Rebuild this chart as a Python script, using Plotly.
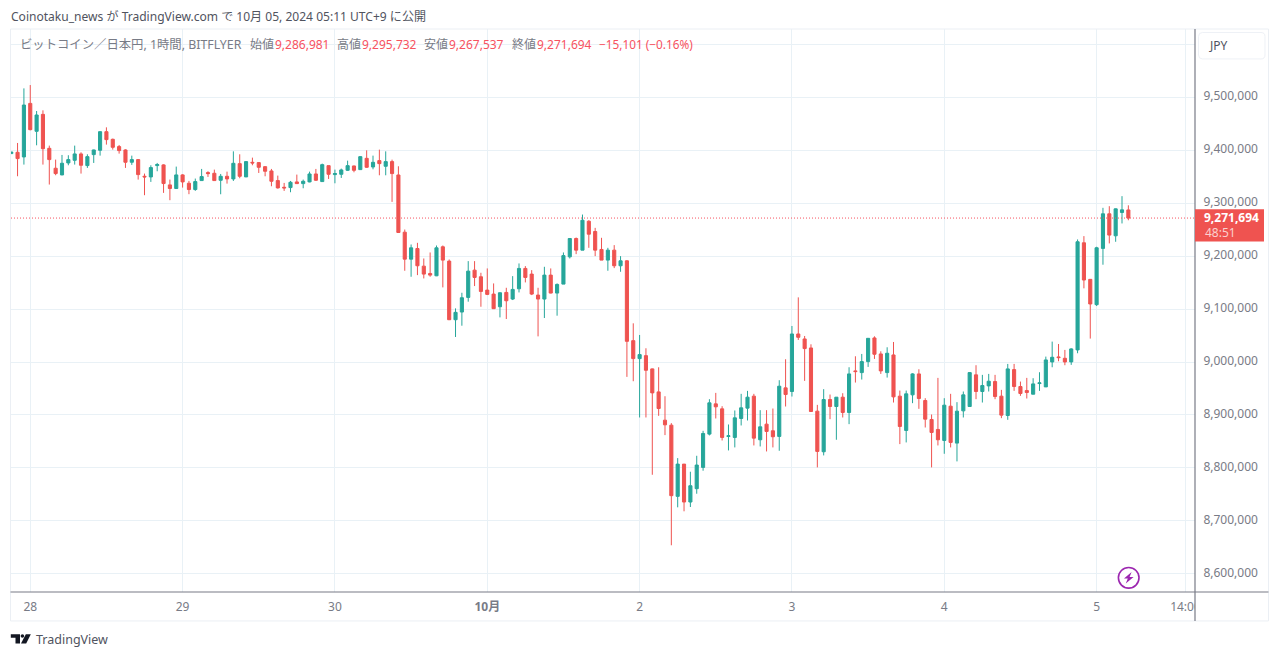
import pandas as pd
import plotly.graph_objects as go

# Prices in thousand yen, one value per hourly candle
open_k = [
9393.3,9395.8,9387.0,9488.1,9435.4,9467.4,9403.3,9365.7,9353.1,9375.7,
9380.7,9392.7,9370.7,9391.4,9399.6,9434.7,9420.3,9406.5,9400.2,9377.0,
9382.0,9350.6,9349.3,9370.7,9372.0,9334.3,9327.4,9353.1,9337.4,9325.5,
9342.4,9357.5,9356.2,9343.0,9350.5,9345.5,9374.4,9349.3,9376.9,9376.3,
9368.7,9360.6,9342.4,9329.8,9329.2,9339.9,9336.7,9339.9,9354.9,9340.5,
9370.6,9353.7,9354.3,9361.8,9370.0,9363.1,9384.4,9368.1,9380.1,9369.4,
9378.2,9353.0,9245.0,9194.1,9214.2,9180.9,9167.1,9162.7,9217.4,9190.4,
9079.8,9094.3,9121.9,9173.4,9160.9,9135.7,9128.2,9104.3,9131.3,9118.8,
9138.2,9176.6,9165.9,9126.3,9118.8,9164.0,9130.1,9147.0,9198.5,9233.1,
9211.1,9265.7,9246.3,9212.4,9192.3,9211.1,9181.6,9191.0,9040.3,9006.4,
9012.0,8987.0,8943.6,8890.2,8880.8,8746.4,8807.3,8735.7,8760.9,8801.1,
8863.9,8921.0,8911.6,8859.5,8857.6,8893.4,8912.9,8935.5,8853.2,8882.7,
8870.2,8859.5,8951.2,8944.3,9052.9,9043.5,9026.5,8907.2,8830.6,8929.2,
8916.0,8933.6,8904.7,8983.2,8980.0,9000.8,9045.4,9015.2,8980.0,9013.3,
8935.5,8870.8,8938.0,8977.5,8927.3,8891.5,8872.7,8851.9,8916.6,8846.9,
8907.8,8916.0,8975.7,8944.3,8954.9,8963.1,8935.5,8899.0,8985.7,8953.7,
8946.1,8939.2,8959.3,8953.0,9000.1,9009.6,9007.0,9000.2,9022.8,9225.0,
9156.0,9108.2,9214.4,9279.7,9238.2,9282.2,9286.981]

close_k = [
9396.4,9383.9,9485.0,9438.5,9466.2,9402.7,9382.0,9355.6,9375.1,9382.0,
9392.7,9371.3,9387.6,9400.2,9434.7,9419.7,9405.2,9399.0,9377.0,9382.0,
9353.7,9349.3,9366.9,9372.6,9336.8,9327.4,9353.1,9339.9,9325.5,9340.5,
9350.0,9355.6,9342.4,9350.5,9345.5,9375.0,9350.5,9378.2,9375.7,9367.5,
9360.0,9341.1,9328.6,9328.6,9339.2,9336.7,9341.1,9354.9,9343.0,9372.5,
9354.3,9355.6,9362.5,9370.6,9361.8,9387.6,9367.5,9376.9,9374.4,9378.2,
9355.6,9244.4,9194.1,9215.5,9181.6,9165.9,9164.0,9215.5,9192.3,9079.8,
9093.7,9121.3,9171.5,9159.6,9133.2,9127.6,9100.6,9130.7,9115.6,9137.0,
9176.6,9159.6,9128.2,9118.8,9164.0,9130.1,9146.4,9200.8,9233.1,9211.1,
9267.6,9241.2,9211.1,9192.3,9211.1,9181.6,9191.0,9039.0,9006.4,9014.0,
8984.4,8941.7,8912.2,8881.4,8747.7,8807.3,8735.7,8766.5,8805.5,8865.1,
8922.9,8915.4,8857.6,8860.7,8894.6,8913.5,8933.6,8856.3,8877.7,8868.9,
8858.9,8954.3,8938.6,9052.9,9046.6,9025.3,8906.6,8831.2,8929.2,8916.0,
8933.6,8904.7,8977.5,8981.9,9000.8,9044.7,9014.6,8983.2,9016.5,8934.2,
8878.3,8939.9,8977.5,8931.1,8892.1,8867.0,8853.2,8918.5,8848.2,8907.2,
8938.0,8980.0,8944.3,8955.6,8963.7,8934.8,8899.7,8987.0,8953.7,8940.5,
8942.4,8958.7,8960.6,9003.9,9008.9,9008.3,9000.1,9024.7,9226.9,9154.7,
9109.5,9215.6,9279.7,9239.5,9289.1,9287.2,9271.694]

high_k = [
9396.4,9413.4,9516.4,9522.7,9473.7,9475.0,9408.4,9382.0,9390.8,9390.2,
9408.4,9395.8,9392.0,9400.8,9435.4,9442.9,9421.6,9409.6,9401.5,9389.5,
9382.6,9355.6,9371.3,9375.7,9373.2,9344.3,9368.8,9354.4,9341.8,9346.2,
9364.4,9360.0,9363.1,9354.9,9359.3,9397.6,9392.0,9378.8,9385.7,9376.9,
9369.4,9364.4,9351.8,9338.0,9341.7,9353.7,9344.3,9359.3,9364.4,9374.4,
9370.6,9363.1,9365.0,9380.0,9370.6,9388.2,9399.5,9389.5,9400.8,9397.6,
9381.9,9369.4,9250.0,9221.8,9224.9,9195.4,9206.7,9219.9,9219.9,9193.5,
9101.2,9130.7,9190.4,9190.4,9168.4,9176.6,9148.3,9131.3,9140.1,9162.1,
9186.0,9181.0,9173.4,9140.1,9179.7,9176.6,9148.3,9206.7,9233.7,9235.0,
9278.3,9267.6,9253.2,9234.4,9215.5,9220.6,9199.8,9192.3,9073.0,9051.0,
9025.9,8987.6,8990.1,8935.4,8884.6,8818.6,8807.3,8792.9,8823.0,8870.1,
8929.8,8941.7,8916.6,8882.1,8908.5,8939.9,8945.5,8939.9,8909.1,8909.1,
8912.2,8965.6,9005.2,9068.0,9122.0,9049.1,9033.4,8919.1,8948.7,8938.6,
8933.6,8941.1,8990.1,9010.8,9015.2,9044.7,9048.5,9020.2,9027.8,9037.8,
8946.1,8946.1,8978.8,8986.3,8931.7,8900.9,8970.0,8931.7,8939.9,8924.2,
8944.3,8980.7,8993.9,8975.7,8977.5,8975.7,8947.4,8996.4,8996.4,8963.1,
8970.0,8969.4,8980.7,9010.2,9038.5,9034.0,9022.8,9026.0,9231.3,9237.6,
9156.0,9217.5,9291.0,9294.1,9289.7,9313.0,9295.732]

low_k = [
9393.3,9350.6,9372.6,9437.3,9409.0,9372.6,9334.9,9352.5,9352.5,9371.3,
9372.6,9355.6,9366.3,9375.7,9389.5,9410.3,9400.8,9393.3,9366.3,9372.0,
9344.3,9314.8,9339.9,9360.0,9319.2,9305.4,9327.4,9329.2,9316.7,9323.0,
9342.4,9349.3,9342.4,9316.6,9336.7,9341.7,9346.8,9349.3,9371.3,9356.8,
9350.5,9331.7,9327.3,9322.9,9320.4,9336.7,9327.9,9339.2,9341.7,9339.9,
9345.5,9337.3,9347.4,9360.6,9358.1,9362.5,9366.2,9363.7,9352.4,9352.4,
9302.2,9243.8,9172.2,9160.9,9164.0,9157.7,9160.9,9162.1,9140.8,9079.2,
9047.2,9068.5,9113.8,9143.3,9104.3,9126.3,9100.0,9084.2,9081.1,9116.9,
9131.3,9150.2,9126.3,9048.4,9083.0,9129.5,9087.4,9147.0,9195.4,9203.6,
9211.1,9215.5,9199.8,9192.3,9172.2,9177.2,9170.3,8971.9,8963.7,8895.3,
8895.3,8787.2,8898.4,8862.0,8654.1,8725.7,8718.2,8726.3,8751.4,8794.8,
8861.4,8893.4,8851.9,8833.1,8838.8,8880.2,8889.6,8842.5,8840.6,8831.2,
8838.8,8832.5,8916.0,8934.8,9041.6,8964.4,8906.0,8801.1,8823.7,8892.1,
8853.2,8895.3,8882.7,8961.2,8966.9,8990.7,9005.8,8977.5,8970.6,8923.5,
8845.0,8848.2,8922.3,8911.6,8876.4,8801.1,8842.5,8826.8,8838.8,8812.4,
8895.3,8915.4,8929.8,8923.5,8944.3,8929.8,8894.0,8890.9,8945.5,8936.1,
8931.1,8939.2,8945.5,8953.0,8990.1,9001.4,8993.9,8994.6,9016.5,9139.0,
9044.2,9105.7,9183.6,9223.8,9226.9,9261.5,9267.537]

times = pd.date_range("2024-09-27 21:00", periods=len(open_k), freq="h")
x_ticks = ["2024-09-28", "2024-09-29", "2024-09-30", "2024-10-01", "2024-10-02",
           "2024-10-03", "2024-10-04", "2024-10-05", "2024-10-05 14:00"]
x_labels = ["28", "29", "30", "<b>10月</b>", "2", "3", "4", "5", "14:00"]
y_ticks = [8600000, 8700000, 8800000, 8900000, 9000000, 9100000, 9200000, 9300000,
           9400000, 9500000, 9600000]
y_labels = ["8,600,000", "8,700,000", "8,800,000", "8,900,000", "9,000,000", "9,100,000",
            "9,200,000", "9,300,000", "9,400,000", "9,500,000", ""]
last_price = 9271694

UP, DOWN = "#26A69A", "#EF5350"
GRID = "#E9F1F6"
AXIS = "#787B86"
FONT = "'Noto Sans', 'Noto Sans CJK JP', sans-serif"

L, R, T, B = 11, 1195, 28.5, 592.5
def fx(px): return (px - L) / (R - L)
def fy(py): return 1 - (py - T) / (B - T)
def path(pts):
    return "M " + " L ".join(f"{fx(a):.5f} {fy(b):.5f}" for a, b in pts) + " Z"
def rounded(x0, y0, x1, y1, r):
    p = lambda a, b: f"{fx(a):.5f} {fy(b):.5f}"
    return (f"M {p(x0 + r, y0)} L {p(x1 - r, y0)} Q {p(x1, y0)} {p(x1, y0 + r)} "
            f"L {p(x1, y1 - r)} Q {p(x1, y1)} {p(x1 - r, y1)} L {p(x0 + r, y1)} "
            f"Q {p(x0, y1)} {p(x0, y1 - r)} L {p(x0, y0 + r)} Q {p(x0, y0)} {p(x0 + r, y0)} Z")

fig = go.Figure(go.Candlestick(
    x=times,
    open=[v * 1000 for v in open_k], high=[v * 1000 for v in high_k],
    low=[v * 1000 for v in low_k], close=[v * 1000 for v in close_k],
    increasing=dict(line=dict(color=UP, width=1), fillcolor=UP),
    decreasing=dict(line=dict(color=DOWN, width=1), fillcolor=DOWN),
    whiskerwidth=0, showlegend=False, hoverinfo="skip",
))

def rect(x0, y0, x1, y1, **kw):
    return dict(type="rect", xref="paper", yref="paper", x0=fx(x0), x1=fx(x1), y0=fy(y0), y1=fy(y1), **kw)
def seg(x0, y0, x1, y1, color, width=1):
    return dict(type="line", xref="paper", yref="paper", x0=fx(x0), x1=fx(x1), y0=fy(y0), y1=fy(y1),
                line=dict(color=color, width=width))

shapes = [
    # last price dotted line
    dict(type="line", xref="paper", yref="y", x0=0, x1=1, y0=last_price, y1=last_price,
         line=dict(color="#F7525F", width=1, dash="1px,2px")),
    # cover the part of the last time label that runs under the price scale
    rect(1195, 594, 1268, 620, fillcolor="white", line=dict(width=0)),
    # outer frame and axis rules
    rect(10.5, 28.5, 1268.5, 621.5, line=dict(color="#EBEFF4", width=1)),
    seg(10.5, 592.5, 1268.5, 592.5, AXIS, 1.2),
    seg(1195, 28.5, 1195, 621.5, AXIS, 1.2),
    # JPY button
    dict(type="path", xref="paper", yref="paper", path=rounded(1198.5, 32, 1265, 58.5, 4),
         line=dict(color="#EEF1F6", width=1), fillcolor="white"),
    # last price badge
    rect(1195, 209, 1264, 241.5, fillcolor=DOWN, line=dict(width=0)),
    # lightning badge
    dict(type="circle", xref="paper", yref="paper", x0=fx(1118.4), x1=fx(1139), y0=fy(588.6), y1=fy(568),
         line=dict(color="#9C27B0", width=1.6), fillcolor="white"),
    dict(type="path", xref="paper", yref="paper",
         path=path([(1131.6, 572.5), (1124, 579), (1127.8, 579), (1125.8, 584), (1133.6, 577.4), (1129.6, 577.4)]),
         fillcolor="#9C27B0", line=dict(width=0)),
    # TradingView logo
    dict(type="path", xref="paper", yref="paper",
         path=path([(10.8, 634.8), (20, 634.8), (20, 644.2), (15.5, 644.2), (15.5, 638.3), (10.8, 638.3)]),
         fillcolor="#131722", line=dict(width=0)),
    dict(type="circle", xref="paper", yref="paper", x0=fx(20.6), x1=fx(24.2), y0=fy(638.4), y1=fy(634.8),
         fillcolor="#131722", line=dict(width=0)),
    dict(type="path", xref="paper", yref="paper",
         path=path([(25.8, 634.8), (30.8, 634.8), (26.2, 644.2), (21, 644.2)]),
         fillcolor="#131722", line=dict(width=0)),
]

def label(px, py, text, color="#787B86", size=12, anchor="left", **kw):
    return dict(xref="paper", yref="paper", x=fx(px), y=fy(py), text=text, showarrow=False,
                xanchor=anchor, yanchor="middle", font=dict(size=size, color=color, family=FONT),
                xshift=0, yshift=0, borderpad=0, **kw)

VAL = "#F7525F"
annotations = [
    label(10, 16, "Coinotaku_news が TradingView.com で 10月 05, 2024 05:11 UTC+9 に公開", "#50535E", size=12.05),
    label(19, 44, "ビットコイン／日本円, 1時間, BITFLYER", "#787B86", size=12.35),
    label(249, 44, "始値", "#787B86"), label(274, 44, "9,286,981", VAL),
    label(336, 44, "高値", "#787B86"), label(361, 44, "9,295,732", VAL),
    label(423, 44, "安値", "#787B86"), label(448, 44, "9,267,537", VAL),
    label(511, 44, "終値", "#787B86"), label(536, 44, "9,271,694", VAL),
    label(598, 44, "−15,101 (−0.16%)", VAL, size=11.8),
    label(1207.5, 45, "JPY", "#50535E"),
    label(1203.5, 217, "<b>9,271,694</b>", "white"),
    label(1204, 232, "48:51", "#FBD0CF"),
    label(34.5, 640, "TradingView", "#50535E", size=12.5),
]

fig.update_layout(
    width=1280, height=658, autosize=False,
    margin=dict(l=L, r=1280 - R, t=T, b=658 - B, pad=0),
    paper_bgcolor="white", plot_bgcolor="white",
    font=dict(family=FONT, size=12, color=AXIS),
    shapes=shapes, annotations=annotations, showlegend=False, hovermode=False,
    xaxis=dict(
        type="date", rangeslider=dict(visible=False),
        range=["2024-09-27 20:58", "2024-10-05 15:30"],
        tickmode="array", tickvals=x_ticks, ticktext=x_labels, tickangle=0,
        showgrid=True, gridcolor=GRID, gridwidth=1, zeroline=False, showline=False,
        ticks="outside", ticklen=4, tickcolor="rgba(0,0,0,0)",
        tickfont=dict(size=12, color=AXIS, family=FONT),
    ),
    yaxis=dict(
        side="right", range=[8565900, 9628500],
        tickmode="array", tickvals=y_ticks, ticktext=y_labels,
        showgrid=True, gridcolor=GRID, gridwidth=1, zeroline=False, showline=False,
        ticks="outside", ticklen=5, tickcolor="rgba(0,0,0,0)", ticklabelshift=-1,
        tickfont=dict(size=12, color=AXIS, family=FONT),
    ),
)

fig.write_html("out.html", config=dict(displayModeBar=False),
               post_script="document.body.style.margin='0';document.body.style.overflow='hidden';")
